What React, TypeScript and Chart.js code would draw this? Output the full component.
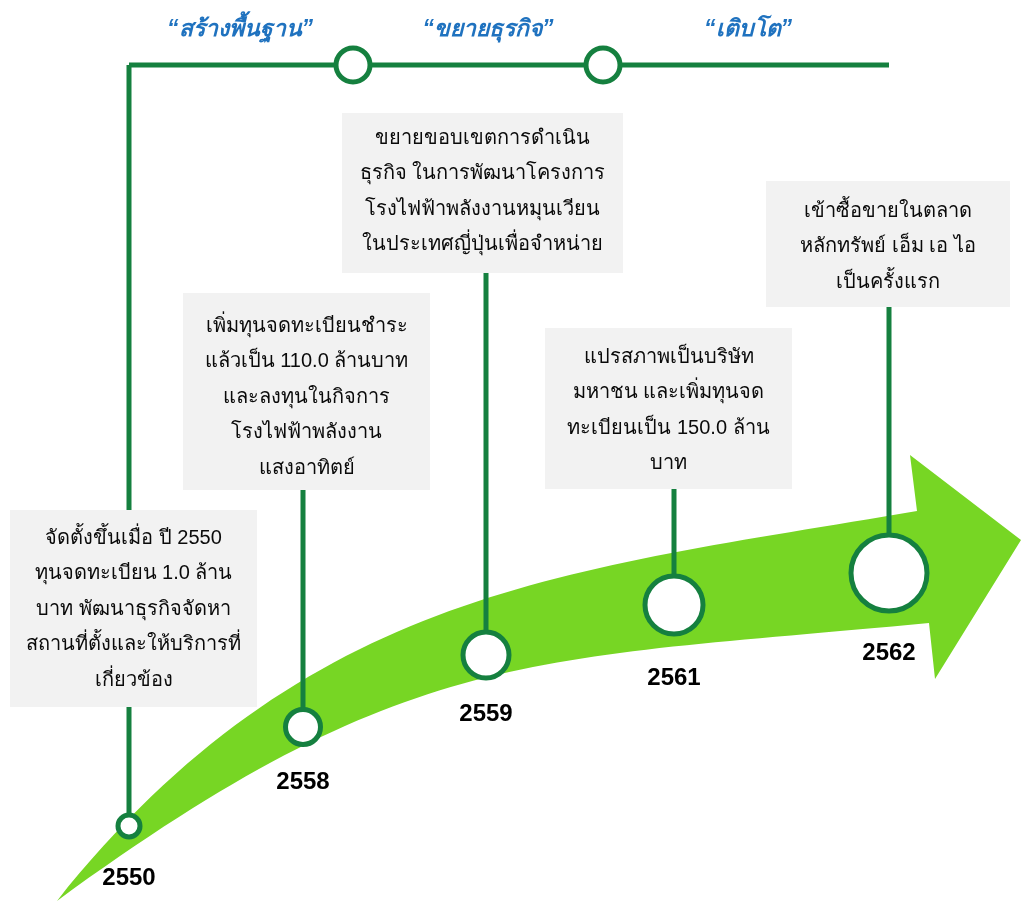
import React, { useEffect, useRef } from 'react';
import { Chart, registerables } from 'chart.js';

Chart.register(...registerables);

// ---------- data ----------
const years = ['2550', '2558', '2559', '2561', '2562'];
const milestoneX = [129, 303, 486, 674, 889];
const milestoneY = [826, 727, 655, 605, 573];
const milestoneRadius = [11, 17.5, 23, 29, 38];
const yearLabelY = [878, 782, 714, 678, 653];

const phases = ['“สร้างพื้นฐาน”', '“ขยายธุรกิจ”', '“เติบโต”'];
const phaseX = [240, 488, 748];
const phaseDividerX = [353, 603];

const descriptions: string[][] = [
  ['จัดตั้งขึ้นเมื่อ ปี 2550', 'ทุนจดทะเบียน 1.0 ล้าน', 'บาท พัฒนาธุรกิจจัดหา', 'สถานที่ตั้งและให้บริการที่', 'เกี่ยวข้อง'],
  ['เพิ่มทุนจดทะเบียนชำระ', 'แล้วเป็น 110.0 ล้านบาท', 'และลงทุนในกิจการ', 'โรงไฟฟ้าพลังงาน', 'แสงอาทิตย์'],
  ['ขยายขอบเขตการดำเนิน', 'ธุรกิจ ในการพัฒนาโครงการ', 'โรงไฟฟ้าพลังงานหมุนเวียน', 'ในประเทศญี่ปุ่นเพื่อจำหน่าย'],
  ['แปรสภาพเป็นบริษัท', 'มหาชน และเพิ่มทุนจด', 'ทะเบียนเป็น 150.0 ล้าน', 'บาท'],
  ['เข้าซื้อขายในตลาด', 'หลักทรัพย์ เอ็ม เอ ไอ', 'เป็นครั้งแรก'],
];

// ---------- layout ----------
const W = 1021;
const H = 901;
const TOP_LINE_Y = 65;
const TOP_LINE_END_X = 889;
const boxLeft = [10, 183, 342, 545, 766];
const boxRight = [257, 430, 623, 792, 1010];
const boxTop = [510, 293, 113, 328, 181];
const boxBottom = [707, 490, 273, 489, 307];
const firstLineY = [538, 326, 138, 357, 211];
const LINE_GAP = 35.5;

const DARK_GREEN = '#15803f';
const ARROW_GREEN = '#77d624';
const BOX_FILL = '#f2f2f2';
const PHASE_BLUE = '#1f72bf';

const arrowPlugin = {
  id: 'arrowShape',
  beforeDatasetsDraw(chart: any) {
    const { ctx, scales } = chart;
    const px = (v: number) => scales.x.getPixelForValue(v);
    const py = (v: number) => scales.y.getPixelForValue(v);
    ctx.save();
    ctx.beginPath();
    ctx.moveTo(px(57), py(901));
    ctx.bezierCurveTo(px(307), py(588), px(567), py(571), px(917), py(511));
    ctx.lineTo(px(910), py(455));
    ctx.lineTo(px(1021), py(540));
    ctx.lineTo(px(935), py(679));
    ctx.lineTo(px(929), py(623));
    ctx.bezierCurveTo(px(529), py(661), px(407), py(646), px(57), py(901));
    ctx.closePath();
    ctx.fillStyle = ARROW_GREEN;
    ctx.fill();
    ctx.restore();
  },
};

const textPlugin = {
  id: 'timelineText',
  afterDatasetsDraw(chart: any) {
    const { ctx, scales } = chart;
    const px = (v: number) => scales.x.getPixelForValue(v);
    const py = (v: number) => scales.y.getPixelForValue(v);
    ctx.save();
    // boxes
    descriptions.forEach((lines, i) => {
      ctx.fillStyle = BOX_FILL;
      ctx.fillRect(px(boxLeft[i]), py(boxTop[i]), px(boxRight[i]) - px(boxLeft[i]), py(boxBottom[i]) - py(boxTop[i]));
      ctx.fillStyle = '#0a0a0a';
      ctx.font = '20px "Liberation Sans", Arial, sans-serif';
      ctx.textAlign = 'center';
      ctx.textBaseline = 'middle';
      const cx = (px(boxLeft[i]) + px(boxRight[i])) / 2;
      lines.forEach((t, j) => {
        ctx.fillText(t, cx, py(firstLineY[i] + j * LINE_GAP));
      });
    });
    // years
    ctx.fillStyle = '#000';
    ctx.font = 'bold 24px "Liberation Sans", Arial, sans-serif';
    ctx.textAlign = 'center';
    ctx.textBaseline = 'middle';
    years.forEach((y, i) => ctx.fillText(y, px(milestoneX[i]), py(yearLabelY[i])));
    // phases
    ctx.fillStyle = PHASE_BLUE;
    ctx.font = 'italic bold 23px "Liberation Sans", Arial, sans-serif';
    phases.forEach((p, i) => ctx.fillText(p, px(phaseX[i]), py(30)));
    ctx.restore();
  },
};

export default function App() {
  const ref = useRef<HTMLCanvasElement>(null);
  useEffect(() => {
    if (!ref.current) return;
    const connectorData: any[] = [];
    milestoneX.forEach((x, i) => {
      const top = i === 0 ? TOP_LINE_Y : boxBottom[i];
      connectorData.push({ x, y: top }, { x, y: milestoneY[i] }, { x, y: null });
    });
    const chart = new Chart(ref.current, {
      type: 'scatter',
      data: {
        datasets: [
          {
            label: 'milestones',
            data: milestoneX.map((x, i) => ({ x, y: milestoneY[i] })),
            pointRadius: milestoneRadius,
            pointBorderWidth: 5,
            pointBackgroundColor: '#ffffff',
            pointBorderColor: DARK_GREEN,
            order: 0,
          } as any,
          {
            label: 'phase dividers',
            data: phaseDividerX.map((x) => ({ x, y: TOP_LINE_Y })),
            pointRadius: 17,
            pointBorderWidth: 5,
            pointBackgroundColor: '#ffffff',
            pointBorderColor: DARK_GREEN,
            order: 1,
          },
          {
            label: 'top line',
            data: [
              { x: milestoneX[0], y: TOP_LINE_Y },
              { x: TOP_LINE_END_X, y: TOP_LINE_Y },
            ],
            showLine: true,
            borderColor: DARK_GREEN,
            borderWidth: 5,
            pointRadius: 0,
            order: 5,
          },
          {
            label: 'connectors',
            data: connectorData,
            showLine: true,
            spanGaps: false,
            borderColor: DARK_GREEN,
            borderWidth: 5,
            pointRadius: 0,
            order: 6,
          },
        ],
      },
      options: {
        animation: false,
        responsive: false,
        events: [],
        layout: { padding: 0, autoPadding: false },
        plugins: { legend: { display: false }, tooltip: { enabled: false } },
        scales: {
          x: { type: 'linear', min: 0, max: W, display: false },
          y: { type: 'linear', min: 0, max: H, reverse: true, display: false },
        },
      },
      plugins: [arrowPlugin, textPlugin],
    });
    return () => chart.destroy();
  }, []);
  return (
    <div style={{ position: 'absolute', left: 0, top: 0, width: W, height: H, background: '#fff' }}>
      <canvas ref={ref} width={W} height={H} style={{ display: 'block' }} />
    </div>
  );
}
